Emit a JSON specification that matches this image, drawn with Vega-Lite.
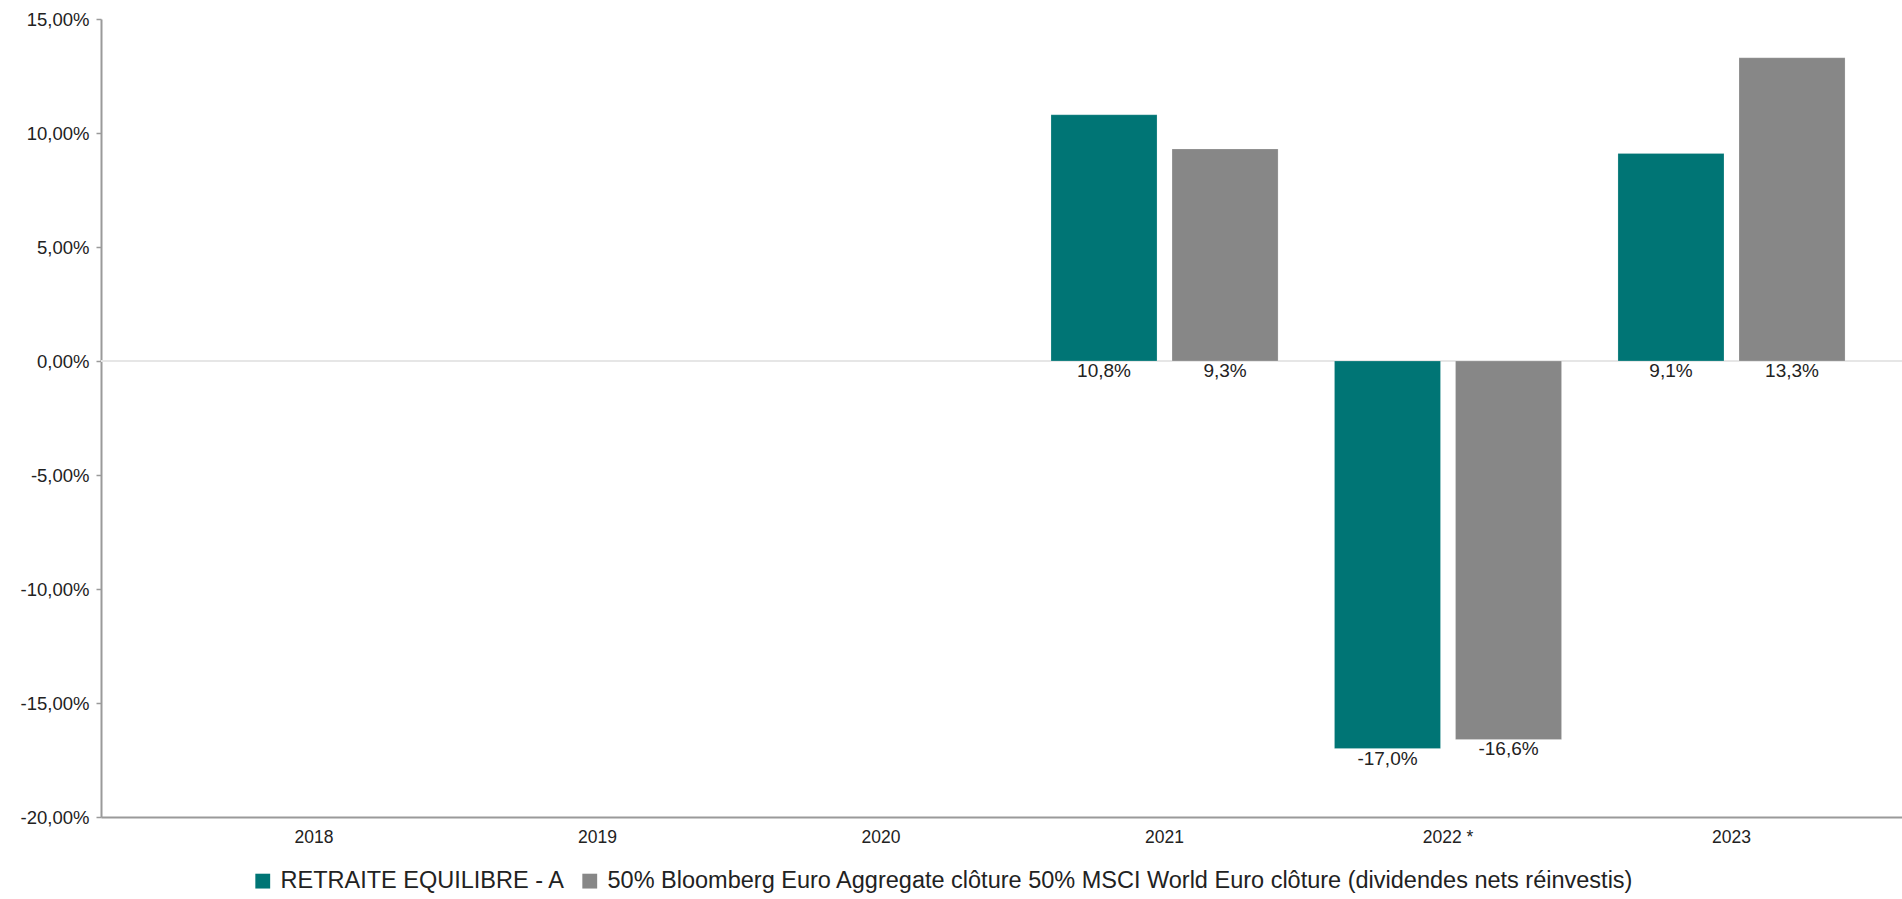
{
  "$schema": "https://vega.github.io/schema/vega-lite/v6.json",
  "width": 1801,
  "height": 798,
  "autosize": {"type": "none"},
  "padding": {"left": 101, "top": 19, "right": 0, "bottom": 82},
  "background": "white",
  "config": {
    "locale": {"number": {"decimal": ",", "thousands": " ", "grouping": [3], "currency": ["", " €"], "minus": "-"}},
    "view": {"stroke": null},
    "font": "Liberation Sans",
    "text": {"font": "Liberation Sans"}
  },
  "data": {
    "values": [
      {"annee": "2021", "serie": "RETRAITE EQUILIBRE - A", "valeur": 0.108},
      {"annee": "2021", "serie": "50% Bloomberg Euro Aggregate clôture 50% MSCI World Euro clôture (dividendes nets réinvestis)", "valeur": 0.093},
      {"annee": "2022 *", "serie": "RETRAITE EQUILIBRE - A", "valeur": -0.170},
      {"annee": "2022 *", "serie": "50% Bloomberg Euro Aggregate clôture 50% MSCI World Euro clôture (dividendes nets réinvestis)", "valeur": -0.166},
      {"annee": "2023", "serie": "RETRAITE EQUILIBRE - A", "valeur": 0.091},
      {"annee": "2023", "serie": "50% Bloomberg Euro Aggregate clôture 50% MSCI World Euro clôture (dividendes nets réinvestis)", "valeur": 0.133}
    ]
  },
  "encoding": {
    "x": {
      "field": "annee",
      "type": "nominal",
      "scale": {"domain": ["2018", "2019", "2020", "2021", "2022 *", "2023"], "paddingInner": 0.199, "paddingOuter": 0.276, "align": 0.636},
      "axis": {
        "title": null,
        "labelAngle": 0,
        "ticks": false,
        "domainColor": "#9a9a9a",
        "domainWidth": 2,
        "labelFontSize": 17.5,
        "labelColor": "#222222",
        "labelPadding": 11,
        "grid": false
      }
    },
    "xOffset": {
      "field": "serie",
      "type": "nominal",
      "sort": ["RETRAITE EQUILIBRE - A", "50% Bloomberg Euro Aggregate clôture 50% MSCI World Euro clôture (dividendes nets réinvestis)"],
      "scale": {"paddingInner": 0.124, "paddingOuter": 0}
    }
  },
  "layer": [
    {
      "mark": {"type": "rule", "color": "#e6e6e6", "strokeWidth": 1.5},
      "encoding": {"y": {"datum": 0, "type": "quantitative"}, "x": null, "xOffset": null}
    },
    {
      "mark": {"type": "bar", "stroke": "white", "strokeOpacity": 0.4, "strokeWidth": 0.5},
      "encoding": {
        "y": {
          "field": "valeur",
          "type": "quantitative",
          "scale": {"domain": [-0.2, 0.15], "nice": false, "zero": true},
          "axis": {
            "title": null,
            "values": [-0.2, -0.15, -0.1, -0.05, 0, 0.05, 0.1, 0.15],
            "format": ".2%",
            "grid": false,
            "domainColor": "#9a9a9a",
            "domainWidth": 2,
            "tickColor": "#9a9a9a",
            "tickSize": 5,
            "tickWidth": 1.5,
            "labelFontSize": 18.5,
            "labelColor": "#222222",
            "labelPadding": 7
          }
        },
        "color": {
          "field": "serie",
          "type": "nominal",
          "scale": {
            "domain": ["RETRAITE EQUILIBRE - A", "50% Bloomberg Euro Aggregate clôture 50% MSCI World Euro clôture (dividendes nets réinvestis)"],
            "range": ["#007575", "#878787"]
          },
          "legend": {
            "orient": "none",
            "legendX": 150,
            "legendY": 850,
            "direction": "horizontal",
            "title": null,
            "symbolType": "square",
            "symbolSize": 220,
            "symbolStrokeWidth": 0,
            "labelFontSize": 23.5,
            "labelColor": "#222222",
            "labelLimit": 2000,
            "labelOffset": 6,
            "columnPadding": 12
          }
        }
      }
    },
    {
      "transform": [{"filter": "datum.valeur >= 0"}],
      "mark": {"type": "text", "baseline": "top", "fontSize": 19, "color": "#222222", "dy": 1},
      "encoding": {
        "y": {"datum": 0, "type": "quantitative"},
        "text": {"field": "valeur", "type": "quantitative", "format": ".1%"}
      }
    },
    {
      "transform": [{"filter": "datum.valeur < 0"}],
      "mark": {"type": "text", "baseline": "top", "fontSize": 19, "color": "#222222", "dy": 1},
      "encoding": {
        "y": {"field": "valeur", "type": "quantitative"},
        "text": {"field": "valeur", "type": "quantitative", "format": ".1%"}
      }
    }
  ]
}
